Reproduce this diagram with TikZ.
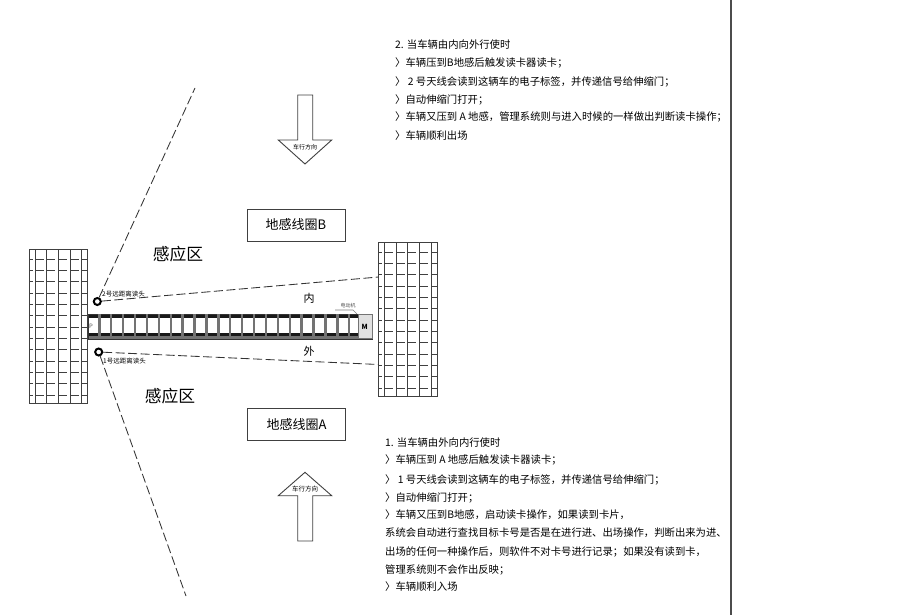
\documentclass[tikz,border=0pt]{standalone}
\usepackage{fontspec}
\setmainfont{Noto Sans CJK SC}
\definecolor{wallgray}{gray}{0.25}
\tikzset{
  wall/.style={draw=wallgray,line width=0.85pt},
  loop/.style={draw=black!75,line width=0.9pt,minimum width=98pt,minimum height=32pt,inner sep=0pt,font=\fontsize{13}{13}\selectfont},
  zone/.style={inner sep=0pt,font=\fontsize{16.8}{16.8}\selectfont},
  side/.style={inner sep=0pt,font=\fontsize{11}{11}\selectfont},
  reader/.style={circle,draw=black,line width=2pt,fill=white,minimum size=7pt,inner sep=0pt},
  small/.style={inner sep=0pt,anchor=west,font=\fontsize{6.5}{6.5}\selectfont},
  line/.style={inner sep=0pt,anchor=west,font=\fontsize{10.35}{10.35}\selectfont},
  sensor/.style={draw=black!80,dash pattern=on 9pt off 3.5pt,line width=0.85pt},
  bigarrow/.style={draw=black!75,line width=0.9pt,fill=white,line join=miter}
}
% one brick wall, #1 = upper left corner
\newcommand{\brickwall}[1]{
  \begin{scope}[shift={#1}]
    \draw[wall] (0,0) rectangle (58.5,154);
    \foreach \r in {0,...,12}{
      \pgfmathsetmacro{\yb}{10+\r*11.33}
      \pgfmathsetmacro{\yt}{\r==0 ? 0 : \yb-11.33}
      \draw[wall] (0,\yb) -- (3.5,\yb);
      \draw[wall] (52.5,\yt) -- (52.5,\yb) -- (58.5,\yb);
      \foreach \c in {0,...,3}
        \draw[wall] (6+\c*11.67,\yt) -- (6+\c*11.67,\yb) -- (14.5+\c*11.67,\yb);
    }
    \foreach \c in {0,...,4}
      \draw[wall] (6+\c*11.67,146) -- (6+\c*11.67,154);
  \end{scope}
}
\begin{document}
\begin{tikzpicture}[x=1pt,y=-1pt]
  \useasboundingbox (0,0) rectangle (900,615);
  \draw[draw=black!70,line width=1.1pt] (731,0) -- (731,615);

  \brickwall{(29,249)}
  \brickwall{(378.5,242)}
  \coordinate (wallin) at (378.5,277);
  \coordinate (wallout) at (378.5,364.5);
  \coordinate (zonetop) at (195,88);
  \coordinate (zonebot) at (186,596);

  % gate arm
  \fill[black!55] (88,336) rectangle (372,339);
  \fill[black!90] (88,314) rectangle (358,318);
  \fill[black!90] (88,333) rectangle (358,336);
  \draw[black!80,line width=0.7pt] (88,314) rectangle (372,339);
  \foreach \x in {0,...,21}
    \draw[black!55,line width=2.4pt] (99.3+\x*11.9,314) -- (99.3+\x*11.9,339);
  \draw[black!55,line width=1pt,fill=black!12] (358,314.5) rectangle (372,338.5);
  \node[inner sep=0pt,font=\fontsize{7}{7}\selectfont\bfseries] (motor) at (364.8,326.5) {M};
  \node[inner sep=0pt,font=\fontsize{5}{5}\selectfont,text=black!70] (motorlabel) at (348,306) {电动机};
  \node[inner sep=0pt,font=\fontsize{6}{6}\selectfont,text=black!70] (armend) at (91,326) {P};
  \draw[black!50,line width=0.6pt] (335,310) -- (353,310) -- (357,314);

  % readers and sensing zones
  \node[reader] (readertwo) at (97.3,301.5) {};
  \node[reader] (readerone) at (98.7,352) {};
  \draw[sensor] (readertwo) -- (zonetop);
  \draw[sensor] (readertwo) -- (wallin);
  \draw[sensor] (readerone) -- (wallout);
  \draw[sensor] (readerone) -- (zonebot);
  \node[small] (labeltwo) at (102,294.5) {2号远距离读头};
  \node[small] (labelone) at (103,361.5) {1号远距离读头};

  \node[zone] (zoneb) at (178,254) {感应区};
  \node[zone] (zonea) at (170,396) {感应区};
  \node[side] (inner) at (309,298) {内};
  \node[side] (outer) at (309,351.5) {外};
  \node[loop] (loopb) at (296,225) {地感线圈B};
  \node[loop] (loopa) at (296.5,424.5) {地感线圈A};

  % driving direction
  \draw[bigarrow] (297.7,95) -- (312.7,95) -- (312.7,140) -- (331.7,140) -- (305,164)
    -- (278.3,140) -- (297.7,140) -- cycle;
  \node[inner sep=0pt,font=\fontsize{6}{6}\selectfont] (dirdown) at (305,147) {车行方向};
  \draw[bigarrow] (297.7,541) -- (312.7,541) -- (312.7,495.7) -- (331.7,495.7) -- (305,472.3)
    -- (278.3,495.7) -- (297.7,495.7) -- cycle;
  \node[inner sep=0pt,font=\fontsize{6.5}{6.5}\selectfont] (dirup) at (305,489) {车行方向};

  % text, way out
  \node[line] (outa) at (395,45) {2. 当车辆由内向外行使时};
  \node[line] (outb) at (395,63) {〉车辆压到B地感后触发读卡器读卡；};
  \node[line] (outc) at (395,82) {〉 2 号天线会读到这辆车的电子标签，并传递信号给伸缩门；};
  \node[line] (outd) at (395,100) {〉自动伸缩门打开；};
  \node[line] (oute) at (395,117) {〉车辆又压到 A 地感，管理系统则与进入时候的一样做出判断读卡操作；};
  \node[line] (outf) at (395,136) {〉车辆顺利出场};

  % text, way in
  \node[line] (ina) at (385,442.5) {1. 当车辆由外向内行使时};
  \node[line] (inb) at (385,460) {〉车辆压到 A 地感后触发读卡器读卡；};
  \node[line] (inc) at (385,480) {〉 1 号天线会读到这辆车的电子标签，并传递信号给伸缩门；};
  \node[line] (ind) at (385,498) {〉自动伸缩门打开；};
  \node[line] (ine) at (385,515) {〉车辆又压到B地感，启动读卡操作，如果读到卡片，};
  \node[line] (inf) at (385,533) {系统会自动进行查找目标卡号是否是在进行进、出场操作，判断出来为进、};
  \node[line] (ing) at (385,552) {出场的任何一种操作后，则软件不对卡号进行记录；如果没有读到卡，};
  \node[line] (inh) at (385,570) {管理系统则不会作出反映；};
  \node[line] (ini) at (385,587) {〉车辆顺利入场};
\end{tikzpicture}
\end{document}
